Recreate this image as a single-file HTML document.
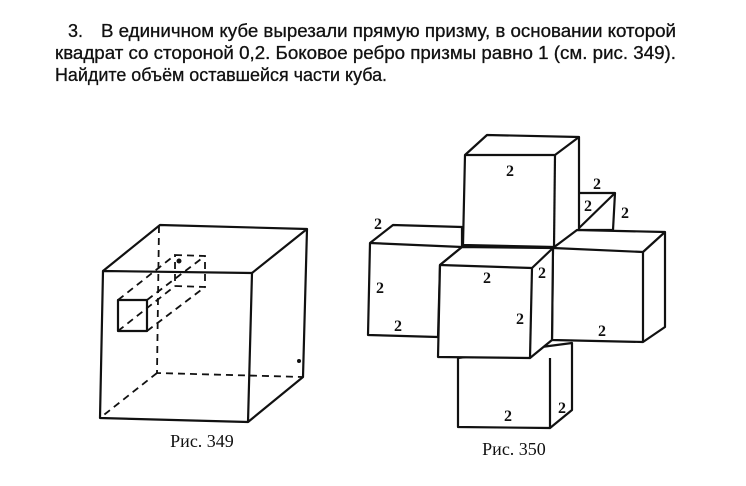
<!DOCTYPE html>
<html><head><meta charset="utf-8"><style>
html,body{margin:0;padding:0;background:#fff;}
svg{display:block}
</style></head><body>
<svg width="746" height="486" viewBox="0 0 746 486" xmlns="http://www.w3.org/2000/svg">
<rect width="746" height="486" fill="#fff"/>
<g font-family="'Liberation Sans', sans-serif" font-size="18" fill="#111" stroke="#111" stroke-width="0.3">
<text x="68" y="37">3.</text>
<text x="101" y="37" textLength="575" lengthAdjust="spacingAndGlyphs">В единичном кубе вырезали прямую призму, в основании которой</text>
<text x="55" y="59" textLength="621" lengthAdjust="spacingAndGlyphs">квадрат со стороной 0,2. Боковое ребро призмы равно 1 (см. рис. 349).</text>
<text x="55" y="81" textLength="332" lengthAdjust="spacingAndGlyphs">Найдите объём оставшейся части куба.</text>
</g>
<g stroke="#111" stroke-width="2.2" fill="none" stroke-linejoin="round">
<polygon points="103,271 252,273 248,422 100,418"/>
<polyline points="103,271 160,225 307,229 252,273"/>
<polyline points="307,229 303,377 248,422"/>
<rect x="118" y="300" width="29" height="31"/>
</g>
<g stroke="#111" stroke-width="1.8" fill="none" stroke-dasharray="7,5">
<polyline points="159,226 157,373 303,377"/>
<line x1="157" y1="373" x2="100" y2="418"/>
<polygon points="175,255 205,256 205,287 175,286"/>
<line x1="118" y1="300" x2="175" y2="255"/>
<line x1="147" y1="300" x2="205" y2="256"/>
<line x1="147" y1="331" x2="205" y2="287"/>
<line x1="118" y1="331" x2="175" y2="286"/>
</g>
<circle cx="299" cy="361" r="2" fill="#111"/>
<circle cx="179" cy="261" r="2.5" fill="#111"/>
<text x="202" y="447" font-family="'Liberation Serif', serif" font-size="18" text-anchor="middle" fill="#111">Рис. 349</text>

<g stroke="#111" stroke-width="2.2" fill="#fff" stroke-linejoin="round">
<polygon points="578,193 615,193 613,230 577,230"/>
<line x1="615" y1="193" x2="577" y2="230"/>
<polygon points="487,135 579,137 579,230 554,247 463,245 465,155"/>
<polyline points="465,155 555,155 579,137" fill="none"/>
<line x1="555" y1="155" x2="554" y2="247"/>
<polygon points="577,230 665,232 665,327 643,342 552,340 553,248"/>
<polyline points="553,248 643,252 665,232" fill="none"/>
<line x1="643" y1="252" x2="643" y2="342"/>
<polygon points="393,225 462,227 462,247 440,265 438,337 368,335 370,243"/>
<line x1="370" y1="243" x2="462" y2="247"/>
<polygon points="458,358 572,343 572,410 550,428 458,427"/>
<line x1="550" y1="358" x2="550" y2="428"/>
<polygon points="462,247 553,248 552,340 530,358 438,357 440,265"/>
<polyline points="440,265 532,268 553,248" fill="none"/>
<line x1="532" y1="268" x2="530" y2="358"/>
</g>
<g font-family="'Liberation Serif', serif" font-weight="bold" font-size="16" fill="#111" text-anchor="middle">
<text x="510" y="176">2</text>
<text x="597" y="189">2</text>
<text x="588" y="211">2</text>
<text x="625" y="218">2</text>
<text x="378" y="229">2</text>
<text x="380" y="293">2</text>
<text x="398" y="331">2</text>
<text x="487" y="283">2</text>
<text x="542" y="278">2</text>
<text x="520" y="324">2</text>
<text x="602" y="336">2</text>
<text x="508" y="421">2</text>
<text x="562" y="413">2</text>
</g>
<text x="514" y="455" font-family="'Liberation Serif', serif" font-size="18" text-anchor="middle" fill="#111">Рис. 350</text>
</svg>
</body></html>
